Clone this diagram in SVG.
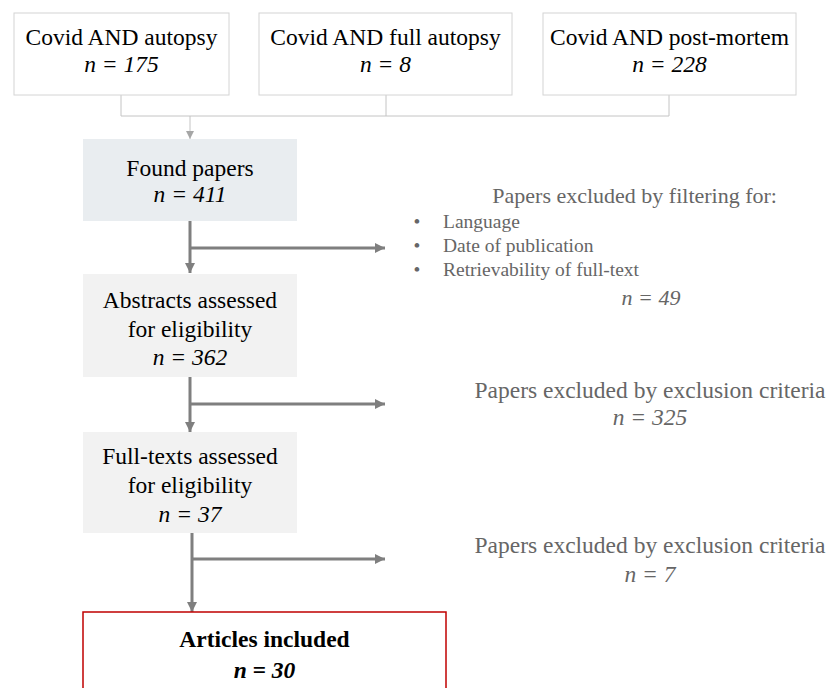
<svg xmlns="http://www.w3.org/2000/svg" width="830" height="688" viewBox="0 0 830 688">
<style>
  text { font-family: "Liberation Serif", "Times New Roman", serif; }
  .bt { font-size: 23.5px; fill: #000; text-anchor: middle; }
  .it { font-style: italic; }
  .top { fill: #ffffff; stroke: #d4d4d4; stroke-width: 1; }
  .found { fill: #e9edf0; }
  .grey { fill: #f2f2f2; }
  .inc { fill: #ffffff; stroke: #c00000; stroke-width: 1.5; }
  .thin { fill: none; stroke: #c4c4c4; stroke-width: 1; }
  .main { fill: none; stroke: #7f7f7f; stroke-width: 3; }
  .rt { fill: #666666; }
  .bl { font-size: 19.5px; }
</style>
<defs>
  <marker id="ahs" markerUnits="userSpaceOnUse" markerWidth="10" markerHeight="10" refX="8" refY="4" orient="auto">
    <path d="M0,0 L8,4 L0,8 Z" fill="#a6a6a6"/>
  </marker>
  <marker id="ah" markerUnits="userSpaceOnUse" markerWidth="12" markerHeight="12" refX="10" refY="5" orient="auto">
    <path d="M0,0 L10,5 L0,10 Z" fill="#7f7f7f"/>
  </marker>
</defs>

<g id="connectors">
  <path class="thin" d="M121,95 V116 M386,95 V116 M669,95 V116 M121,116 H669"/>
  <path class="thin" d="M190,116 V139" stroke="#a6a6a6" marker-end="url(#ahs)"/>
  <path class="main" d="M190,221 V273" marker-end="url(#ah)"/>
  <path class="main" d="M190,248 H385" marker-end="url(#ah)"/>
  <path class="main" d="M190,377 V432" marker-end="url(#ah)"/>
  <path class="main" d="M190,404 H385" marker-end="url(#ah)"/>
  <path class="main" d="M192,533 V612" marker-end="url(#ah)"/>
  <path class="main" d="M192,559 H385" marker-end="url(#ah)"/>
</g>

<g id="search1">
  <rect class="top" x="14" y="13" width="215" height="82"/>
  <text class="bt" x="121.5" y="45">Covid AND autopsy</text>
  <text class="bt it" x="121.5" y="72">n = 175</text>
</g>
<g id="search2">
  <rect class="top" x="259" y="13" width="253" height="82"/>
  <text class="bt" x="385.5" y="45">Covid AND full autopsy</text>
  <text class="bt it" x="385.5" y="72">n = 8</text>
</g>
<g id="search3">
  <rect class="top" x="543" y="13" width="253" height="82"/>
  <text class="bt" x="669.5" y="45">Covid AND post-mortem</text>
  <text class="bt it" x="669.5" y="72">n = 228</text>
</g>

<g id="found">
  <rect class="found" x="83" y="139" width="214" height="82"/>
  <text class="bt" x="190" y="176">Found papers</text>
  <text class="bt it" x="190" y="202">n = 411</text>
</g>

<g id="abstracts">
  <rect class="grey" x="83" y="274" width="214" height="103"/>
  <text class="bt" x="190" y="308">Abstracts assessed</text>
  <text class="bt" x="190" y="337">for eligibility</text>
  <text class="bt it" x="190" y="365">n = 362</text>
</g>

<g id="fulltexts">
  <rect class="grey" x="83" y="432" width="214" height="101"/>
  <text class="bt" x="190" y="464">Full-texts assessed</text>
  <text class="bt" x="190" y="493">for eligibility</text>
  <text class="bt it" x="190" y="522">n = 37</text>
</g>

<g id="included">
  <rect class="inc" x="83" y="612" width="363" height="82"/>
  <text class="bt" x="264.5" y="647" font-size="26" font-weight="bold">Articles included</text>
  <text class="bt it" x="264.5" y="678" font-size="26" font-weight="bold">n = 30</text>
</g>

<g id="excl1">
  <text class="rt" x="777" y="203" font-size="22" text-anchor="end">Papers excluded by filtering for:</text>
  <text class="rt bl" x="417" y="228" text-anchor="middle">•</text>
  <text class="rt bl" x="443" y="228">Language</text>
  <text class="rt bl" x="417" y="252" text-anchor="middle">•</text>
  <text class="rt bl" x="443" y="252">Date of publication</text>
  <text class="rt bl" x="417" y="276" text-anchor="middle">•</text>
  <text class="rt bl" x="443" y="276">Retrievability of full-text</text>
  <text class="rt it" x="651" y="305" font-size="22" text-anchor="middle">n = 49</text>
</g>

<g id="excl2">
  <text class="rt" x="650" y="398" font-size="23.5" text-anchor="middle">Papers excluded by exclusion criteria</text>
  <text class="rt it" x="650" y="425" font-size="23.5" text-anchor="middle">n = 325</text>
</g>

<g id="excl3">
  <text class="rt" x="650" y="553" font-size="23.5" text-anchor="middle">Papers excluded by exclusion criteria</text>
  <text class="rt it" x="650" y="582" font-size="23.5" text-anchor="middle">n = 7</text>
</g>
</svg>
